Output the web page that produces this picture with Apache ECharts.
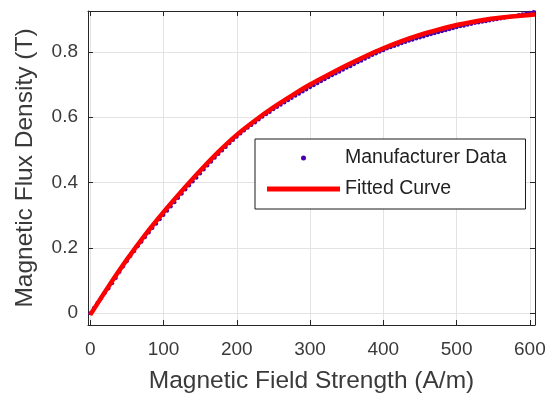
<!DOCTYPE html>
<html>
<head>
<meta charset="utf-8">
<script src="https://cdn.jsdelivr.net/npm/echarts@6/dist/echarts.min.js"></script>
<style>html,body{margin:0;padding:0;background:#fff}#c{width:554px;height:394px}</style>
</head>
<body>
<div id="c"></div>
<script>
// Manufacturer data (H in A/m, B in T)
var dataH = [0,5,10,15,20,25,30,35,40,45,50,55,60,65,70,75,80,85,90,95,100,105,110,115,120,125,130,135,140,145,150,155,160,165,170,175,180,185,190,195,200,205,210,215,220,225,230,235,240,245,250,255,260,265,270,275,280,285,290,295,300,305,310,315,320,325,330,335,340,345,350,355,360,365,370,375,380,385,390,395,400,405,410,415,420,425,430,435,440,445,450,455,460,465,470,475,480,485,490,495,500,505,510,515,520,525,530,535,540,545,550,555,560,565,570,575,580,585,590,595,600,605];
var dataB = [0.000,0.016,0.032,0.047,0.062,0.076,0.092,0.108,0.126,0.143,0.159,0.175,0.190,0.205,0.219,0.233,0.247,0.261,0.274,0.288,0.301,0.314,0.327,0.340,0.353,0.366,0.379,0.391,0.403,0.415,0.428,0.440,0.452,0.464,0.476,0.487,0.498,0.509,0.520,0.530,0.540,0.550,0.559,0.568,0.576,0.584,0.593,0.601,0.609,0.616,0.624,0.631,0.638,0.645,0.652,0.659,0.666,0.672,0.679,0.685,0.692,0.698,0.704,0.710,0.716,0.722,0.728,0.734,0.739,0.745,0.751,0.756,0.762,0.768,0.773,0.779,0.784,0.790,0.795,0.800,0.805,0.810,0.814,0.818,0.822,0.826,0.830,0.834,0.837,0.841,0.844,0.847,0.851,0.854,0.857,0.860,0.863,0.866,0.869,0.872,0.875,0.878,0.880,0.883,0.885,0.888,0.890,0.892,0.894,0.896,0.898,0.900,0.902,0.904,0.906,0.908,0.910,0.913,0.915,0.918,0.920,0.922];
// Fitted curve
var fitH = [0,25,50,75,100,125,150,175,200,225,250,275,300,325,350,375,400,425,450,475,500,525,550,575,600,607];
var fitB = [-0.005,0.082,0.164,0.240,0.309,0.374,0.436,0.494,0.546,0.590,0.630,0.666,0.700,0.730,0.759,0.786,0.811,0.833,0.852,0.868,0.882,0.893,0.902,0.908,0.913,0.914];
var seriesNames = ['Manufacturer Data', 'Fitted Curve'];
var xTitle = 'Magnetic Field Strength (A/m)';
var yTitle = 'Magnetic Flux Density (T)';

var chart = echarts.init(document.getElementById('c'), null, {renderer: 'canvas'});
var FONT = 'Liberation Sans';
var axisCol = '#262626';
var txtCol = '#3a3a3a';
var gridCol = '#e3e3e3';
function pairs(a, b){ return a.map(function(v,i){ return [v, b[i]]; }); }
function fmt(v){ return (Math.abs(v % 100) < 1e-9) ? String(v) : ''; }
function fmtY(v){ var r = Math.round(v*10)/10; if (Math.abs(r - v) > 1e-6) return ''; return r === 0 ? '0' : String(r); }
var xMin = -3, xMax = 607, yMin = -0.036, yMax = 0.925;

chart.setOption({
  animation: false,
  backgroundColor: '#fff',
  grid: {left: 88, right: 19, top: 11, bottom: 69, containLabel: false, outerBoundsMode: 'none'},
  xAxis: [{
    type: 'value', min: xMin, max: xMax, splitNumber: 6, position: 'bottom',
    name: xTitle, nameLocation: 'middle', nameGap: 44,
    nameTextStyle: {fontFamily: FONT, fontSize: 24.5, color: txtCol},
    axisLine: {show: true, onZero: false, lineStyle: {color: axisCol, width: 1}},
    axisTick: {show: true, inside: true, length: 5, lineStyle: {color: axisCol}},
    axisLabel: {showMinLabel: false, showMaxLabel: false, formatter: fmt, fontFamily: FONT, fontSize: 19, color: txtCol, margin: 15},
    splitLine: {show: true, lineStyle: {color: gridCol, width: 1}}
  }, {
    type: 'value', min: xMin, max: xMax, splitNumber: 6, position: 'top',
    axisLine: {show: true, onZero: false, lineStyle: {color: axisCol, width: 1}},
    axisTick: {show: true, inside: true, length: 5, lineStyle: {color: axisCol}},
    axisLabel: {show: false}, splitLine: {show: false}
  }],
  yAxis: [{
    type: 'value', min: yMin, max: yMax, splitNumber: 5, position: 'left',
    name: yTitle, nameLocation: 'middle', nameGap: 50,
    nameTextStyle: {fontFamily: FONT, fontSize: 24.5, color: txtCol},
    axisLine: {show: true, onZero: false, lineStyle: {color: axisCol, width: 1}},
    axisTick: {show: true, inside: true, length: 5, lineStyle: {color: axisCol}},
    axisLabel: {showMinLabel: false, showMaxLabel: false, formatter: fmtY, fontFamily: FONT, fontSize: 19, color: txtCol, margin: 10},
    splitLine: {show: true, lineStyle: {color: gridCol, width: 1}}
  }, {
    type: 'value', min: yMin, max: yMax, splitNumber: 5, position: 'right',
    axisLine: {show: true, onZero: false, lineStyle: {color: axisCol, width: 1}},
    axisTick: {show: true, inside: true, length: 5, lineStyle: {color: axisCol}},
    axisLabel: {show: false}, splitLine: {show: false}
  }],
  legend: {
    orient: 'vertical', left: 255, top: 139,
    data: [{name: seriesNames[0], icon: 'circle'}, {name: seriesNames[1], icon: 'rect'}],
    itemWidth: 73, itemHeight: 5, itemGap: 9,
    padding: [8, 19, 9, 12],
    backgroundColor: '#fff', borderColor: '#1a1a1a', borderWidth: 1, borderRadius: 0,
    textStyle: {fontFamily: FONT, fontSize: 19.5, color: '#222', lineHeight: 22}
  },
  series: [{
    name: seriesNames[0], type: 'scatter', xAxisIndex: 0, yAxisIndex: 0,
    data: pairs(dataH, dataB), symbol: 'circle', symbolSize: 4,
    itemStyle: {color: '#4a00a8', opacity: 1}, z: 2
  }, {
    name: seriesNames[1], type: 'line', xAxisIndex: 0, yAxisIndex: 0,
    data: pairs(fitH, fitB), showSymbol: false, symbol: 'none', smooth: 0.3,
    lineStyle: {color: '#ff0000', width: 4.5}, itemStyle: {color: '#ff0000'}, z: 3
  }]
});
</script>
</body>
</html>
